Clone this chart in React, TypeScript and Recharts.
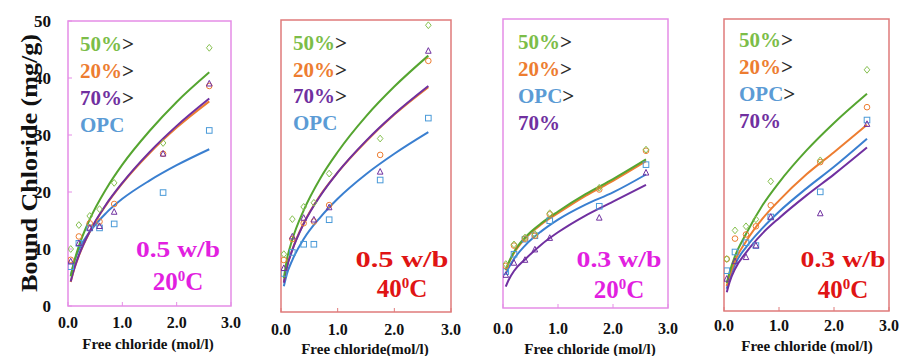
import React from 'react';
import { ComposedChart, Line, Scatter, XAxis, YAxis, ReferenceArea, Customized } from 'recharts';

// ---------- data ----------
const xPoints = [0.05, 0.2, 0.4, 0.58, 0.85, 1.75, 2.6];
const xCurve = [0.05, 0.1, 0.2, 0.4, 0.7, 1.0, 1.5, 2.0, 2.6];
const xTicks = [0, 1, 2, 3];
const yTicks = [0, 10, 20, 30, 40, 50];

// Panel 1: 0.5 w/b, 20 C
const p1GreenPts = [10.0, 14.2, 15.8, 17.0, 21.6, 28.6, 45.3];
const p1OrangePts = [8.1, 12.2, 14.5, 14.8, 17.9, 26.7, 38.6];
const p1PurplePts = [7.8, 11.0, 13.7, 14.0, 16.5, 26.7, 39.0];
const p1BluePts = [6.9, 11.0, 13.7, 13.7, 14.4, 19.9, 30.8];
const p1GreenFit = [5.2, 7.3, 10.5, 15.2, 20.5, 24.8, 30.7, 35.8, 41.0];
const p1OrangeFit = [4.2, 6.0, 8.8, 13.0, 17.7, 21.5, 26.8, 31.3, 35.9];
const p1PurpleFit = [4.3, 6.1, 8.9, 13.1, 17.8, 21.6, 27.0, 31.6, 36.4];
const p1BlueFit = [5.3, 7.3, 9.9, 13.0, 16.3, 18.8, 22.0, 24.7, 27.5];

// Panel 2: 0.5 w/b, 40 C
const p2GreenPts = [9.9, 15.9, 18.0, 18.7, 23.7, 29.7, 49.1];
const p2OrangePts = [8.9, 12.5, 15.2, 15.5, 18.3, 26.9, 43.0];
const p2PurplePts = [7.5, 12.9, 16.1, 15.8, 17.9, 24.0, 44.7];
const p2BluePts = [6.6, 10.2, 11.6, 11.6, 15.8, 22.6, 33.2];
const p2GreenFit = [5.8, 8.8, 12.4, 17.4, 23.0, 27.4, 33.5, 38.6, 43.9];
const p2OrangeFit = [5.1, 7.6, 10.7, 15.2, 20.1, 23.9, 29.2, 33.8, 38.5];
const p2PurpleFit = [5.0, 7.5, 10.6, 15.1, 20.0, 23.9, 29.3, 33.9, 38.7];
const p2BlueFit = [4.4, 6.4, 8.9, 12.5, 16.3, 19.4, 23.6, 27.1, 30.8];

// Panel 3: 0.3 w/b, 20 C
const p3GreenPts = [7.6, 11.0, 12.2, 12.8, 16.4, 20.8, 27.4];
const p3OrangePts = [7.3, 10.8, 12.0, 12.5, 16.2, 20.5, 27.2];
const p3BluePts = [6.3, 9.3, 11.9, 12.5, 15.1, 17.6, 24.8];
const p3PurplePts = [5.7, 7.8, 8.3, 10.1, 12.1, 15.6, 23.4];
const p3GreenFit = [6.6, 7.8, 9.7, 12.2, 14.7, 16.7, 19.7, 22.3, 25.7];
const p3OrangeFit = [6.5, 7.7, 9.5, 12.0, 14.5, 16.4, 19.4, 22.0, 25.4];
const p3BlueFit = [5.9, 6.9, 8.5, 10.8, 13.3, 15.3, 17.9, 20.0, 23.1];
const p3PurpleFit = [3.7, 4.8, 6.4, 8.4, 11.0, 13.1, 16.0, 18.4, 21.3];

// Panel 4: 0.3 w/b, 40 C
const p4GreenPts = [8.9, 13.8, 14.5, 15.7, 22.2, 25.8, 41.3];
const p4OrangePts = [8.9, 12.4, 13.1, 14.5, 18.1, 25.5, 34.9];
const p4BluePts = [6.9, 10.1, 11.7, 11.2, 16.1, 20.4, 32.7];
const p4PurplePts = [5.5, 8.5, 9.2, 11.2, 16.1, 16.7, 32.0];
const p4GreenFit = [4.8, 6.6, 9.4, 13.2, 18.1, 22.0, 27.5, 32.2, 37.2];
const p4OrangeFit = [4.3, 6.0, 8.6, 11.9, 15.8, 18.9, 23.4, 27.2, 31.9];
const p4BlueFit = [3.8, 5.5, 8.0, 10.9, 14.2, 17.0, 21.0, 24.7, 29.5];
const p4PurpleFit = [3.2, 4.9, 7.2, 10.0, 13.3, 15.9, 19.8, 23.4, 28.0];

const zip = (xs: number[], ys: number[]) => xs.map((x, i) => ({ x, y: ys[i] }));

// ---------- styles ----------
const W = 899;
const H = 356;
const FONT = "'Liberation Serif', 'Times New Roman', Times, serif";
const COL = {
  green: '#55a530',
  greenPt: '#86c050',
  greenTxt: '#7cbd48',
  orange: '#ed7d31',
  purple: '#7030a0',
  blue: '#3a7fd0',
  bluePt: '#4a9ad8',
  blueTxt: '#5b9bd5',
  magenta: '#e21fe0',
  magentaFrame: '#e58de6',
  red: '#e01414',
  redFrame: '#e07b7b',
};

type Kind = 'diamond' | 'circle' | 'square' | 'triangle';

const makeShape = (kind: Kind, color: string) => (props: any) => {
  const { cx, cy } = props;
  if (cx == null || cy == null) return <g />;
  const r = 2.8;
  const common = { fill: 'none', stroke: color, strokeWidth: 1 };
  if (kind === 'diamond')
    return <path d={`M${cx},${cy - r - 0.6}L${cx + r},${cy}L${cx},${cy + r + 0.6}L${cx - r},${cy}Z`} {...common} />;
  if (kind === 'circle') return <circle cx={cx} cy={cy} r={r} {...common} />;
  if (kind === 'square') return <rect x={cx - r} y={cy - r} width={2 * r} height={2 * r} {...common} />;
  return <path d={`M${cx},${cy - r - 0.5}L${cx + r},${cy + r - 0.5}L${cx - r},${cy + r - 0.5}Z`} {...common} />;
};

type SeriesDef = { name: string; line: string; pt: string; kind: Kind; pts: number[]; fit: number[] };
type LegendDef = { text: string; color: string; arrow: boolean };
type PanelDef = {
  frame: { l: number; r: number; t: number; b: number };
  frameColor: string;
  labelColor: string;
  showY: boolean;
  tickMargin: number;
  series: SeriesDef[];
  legend: LegendDef[];
  legendX: number;
  legendY: number[];
  wb: string;
  wbLen: number;
  temp: string;
  condX: number;
  condY: [number, number];
  xTitle: string;
  xTitleX: number;
  xTitleY: number;
};

const legA: LegendDef[] = [
  { text: '50%', color: COL.greenTxt, arrow: true },
  { text: '20%', color: COL.orange, arrow: true },
  { text: '70%', color: COL.purple, arrow: true },
  { text: 'OPC', color: COL.blueTxt, arrow: false },
];
const legB: LegendDef[] = [
  { text: '50%', color: COL.greenTxt, arrow: true },
  { text: '20%', color: COL.orange, arrow: true },
  { text: 'OPC', color: COL.blueTxt, arrow: true },
  { text: '70%', color: COL.purple, arrow: false },
];

const series = (g: number[], gf: number[], o: number[], of: number[], p: number[], pf: number[], b: number[], bf: number[]): SeriesDef[] => [
  { name: 'OPC', line: COL.blue, pt: COL.bluePt, kind: 'square', pts: b, fit: bf },
  { name: '20%', line: COL.orange, pt: COL.orange, kind: 'circle', pts: o, fit: of },
  { name: '70%', line: COL.purple, pt: COL.purple, kind: 'triangle', pts: p, fit: pf },
  { name: '50%', line: COL.green, pt: COL.greenPt, kind: 'diamond', pts: g, fit: gf },
];

const panels: PanelDef[] = [
  {
    frame: { l: 68, r: 231, t: 21, b: 306 },
    frameColor: COL.magentaFrame,
    labelColor: COL.magenta,
    showY: true,
    tickMargin: 15,
    series: series(p1GreenPts, p1GreenFit, p1OrangePts, p1OrangeFit, p1PurplePts, p1PurpleFit, p1BluePts, p1BlueFit),
    legend: legA,
    legendX: 80,
    legendY: [51, 78, 105, 132],
    wb: '0.5 w/b',
    wbLen: 84,
    temp: '20',
    condX: 178,
    condY: [257, 290],
    xTitle: 'Free chloride (mol/l)',
    xTitleX: 148,
    xTitleY: 349,
  },
  {
    frame: { l: 281, r: 451, t: 20, b: 312 },
    frameColor: COL.redFrame,
    labelColor: COL.red,
    showY: false,
    tickMargin: 16,
    series: series(p2GreenPts, p2GreenFit, p2OrangePts, p2OrangeFit, p2PurplePts, p2PurpleFit, p2BluePts, p2BlueFit),
    legend: legA,
    legendX: 293,
    legendY: [50, 77, 103, 130],
    wb: '0.5 w/b',
    wbLen: 93,
    temp: '40',
    condX: 402,
    condY: [267, 297],
    xTitle: 'Free chloride(mol/l)',
    xTitleX: 365,
    xTitleY: 354,
  },
  {
    frame: { l: 503, r: 668, t: 19, b: 308 },
    frameColor: COL.magentaFrame,
    labelColor: COL.magenta,
    showY: false,
    tickMargin: 19,
    series: series(p3GreenPts, p3GreenFit, p3OrangePts, p3OrangeFit, p3PurplePts, p3PurpleFit, p3BluePts, p3BlueFit),
    legend: legB,
    legendX: 518,
    legendY: [49, 76, 103, 130],
    wb: '0.3 w/b',
    wbLen: 85,
    temp: '20',
    condX: 619,
    condY: [267, 298],
    xTitle: 'Free chloride (mol/l)',
    xTitleX: 590,
    xTitleY: 354,
  },
  {
    frame: { l: 724, r: 889, t: 19, b: 311 },
    frameColor: COL.redFrame,
    labelColor: COL.red,
    showY: false,
    tickMargin: 13,
    series: series(p4GreenPts, p4GreenFit, p4OrangePts, p4OrangeFit, p4PurplePts, p4PurpleFit, p4BluePts, p4BlueFit),
    legend: legB,
    legendX: 739,
    legendY: [47, 74, 101, 128],
    wb: '0.3 w/b',
    wbLen: 85,
    temp: '40',
    condX: 843,
    condY: [267, 298],
    xTitle: 'Free chloride (mol/l)',
    xTitleX: 807,
    xTitleY: 351,
  },
];

const Y_AXIS_W = 60;
const X_AXIS_H = 30;
const fmt = (v: number) => v.toFixed(1);

const PanelText = ({ p, first }: { p: PanelDef; first: boolean }) => (
  <g fontFamily={FONT} fontWeight="bold">
    {p.legend.map((it, i) => (
      <text key={it.text} x={p.legendX} y={p.legendY[i]} fontSize={21}>
        <tspan fill={it.color}>{it.text}</tspan>
        {it.arrow ? <tspan fill="#2a2a2a">&gt;</tspan> : null}
      </text>
    ))}
    <text
      x={p.condX}
      y={p.condY[0]}
      textAnchor="middle"
      fontSize={24}
      fill={p.labelColor}
      textLength={p.wbLen}
      lengthAdjust="spacingAndGlyphs"
    >
      {p.wb}
    </text>
    <text x={p.condX} y={p.condY[1]} textAnchor="middle" fontSize={25} fill={p.labelColor}>
      <tspan>{p.temp}</tspan>
      <tspan dy={-9} fontSize={15}>0</tspan>
      <tspan dy={9}>C</tspan>
    </text>
    <text x={p.xTitleX} y={p.xTitleY} textAnchor="middle" fontSize={15} fill="#111">
      {p.xTitle}
    </text>
    {first ? (
      <text
        transform="translate(37,163) rotate(-90)"
        textAnchor="middle"
        fontSize={24}
        fill="#111"
        textLength={258}
        lengthAdjust="spacingAndGlyphs"
      >
        Bound Chloride (mg/g)
      </text>
    ) : null}
  </g>
);

const Panel = ({ p, first }: { p: PanelDef; first: boolean }) => {
  const margin = {
    top: p.frame.t,
    right: W - p.frame.r,
    bottom: H - p.frame.b - X_AXIS_H,
    left: p.showY ? p.frame.l - Y_AXIS_W : p.frame.l,
  };
  return (
    <div style={{ position: 'absolute', left: 0, top: 0, width: W, height: H }}>
      <ComposedChart width={W} height={H} margin={margin}>
        <XAxis
          type="number"
          dataKey="x"
          domain={[0, 3]}
          ticks={xTicks}
          allowDataOverflow
          tickFormatter={fmt}
          height={X_AXIS_H}
          axisLine={false}
          tickSize={-4}
          tickMargin={p.tickMargin}
          tickLine={{ stroke: p.frameColor }}
          tick={{ fontFamily: FONT, fontWeight: 'bold', fontSize: 16, fill: '#111' }}
        />
        <YAxis
          type="number"
          dataKey="y"
          domain={[0, 50]}
          ticks={yTicks}
          allowDataOverflow
          hide={!p.showY}
          width={Y_AXIS_W}
          axisLine={false}
          tickSize={-4}
          tickMargin={21}
          tickLine={{ stroke: p.frameColor }}
          tick={{ fontFamily: FONT, fontWeight: 'bold', fontSize: 17, fill: '#111' }}
        />
        <ReferenceArea x1={0} x2={3} y1={0} y2={50} fill="none" stroke={p.frameColor} strokeWidth={1.5} />
        {p.series.map((s) => (
          <Line
            key={'l' + s.name}
            data={zip(xCurve, s.fit)}
            dataKey="y"
            type="monotone"
            stroke={s.line}
            strokeWidth={2}
            dot={false}
            activeDot={false}
            isAnimationActive={false}
          />
        ))}
        {p.series.map((s) => (
          <Scatter
            key={'s' + s.name}
            data={zip(xPoints, s.pts)}
            dataKey="y"
            shape={makeShape(s.kind, s.pt)}
            isAnimationActive={false}
          />
        ))}
        <Customized component={() => <PanelText p={p} first={first} />} />
      </ComposedChart>
    </div>
  );
};

export default function App() {
  return (
    <div style={{ position: 'absolute', left: 0, top: 0, width: W, height: H, background: '#fff', overflow: 'hidden' }}>
      {panels.map((p, i) => (
        <Panel key={i} p={p} first={i === 0} />
      ))}
    </div>
  );
}
